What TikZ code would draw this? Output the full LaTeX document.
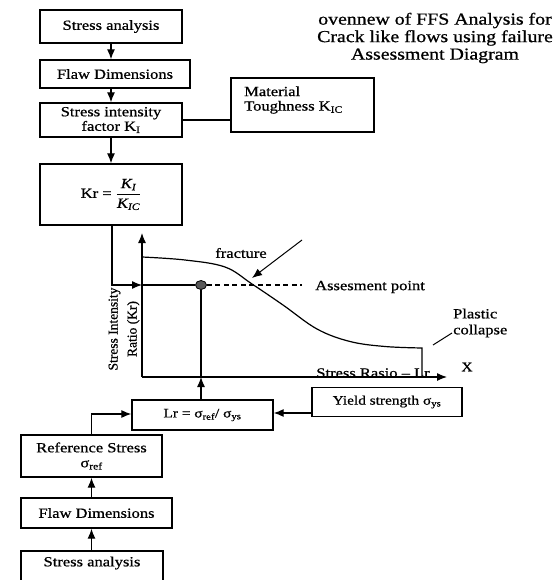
\documentclass[tikz,border=0pt]{standalone}
\usepackage{amsmath}
\usepackage{fontspec}
\setmainfont{Liberation Serif}[FakeStretch=1.18,FakeBold=0.8]
\newfontfamily\rotfont{Liberation Serif}[FakeBold=0.8]
\usetikzlibrary{arrows.meta,shapes.geometric}
\tikzset{
  blk/.style={draw, line width=1.3pt, inner sep=0pt, align=center, font=\fontsize{14}{14.5}\selectfont},
  txt/.style={inner sep=0pt, font=\fontsize{14}{16}\selectfont},
  conn/.style={line width=1.2pt},
  arr/.style={line width=1.2pt, -{Latex[length=10pt,width=8pt]}},
}
\begin{document}
\begin{tikzpicture}[x=1pt,y=-1pt]
\useasboundingbox (0,0) rectangle (557,580);
% title
\node[align=center, inner sep=0pt, font=\fontsize{16.8}{17.5}\selectfont] (title) at (435,38)
  {ovennew of FFS Analysis for\\Crack like flows using failure\\Assessment Diagram};
% upper chain
\node[blk, minimum width=142pt, minimum height=33pt] (sa1) at (111,26.5) {Stress analysis};
\node[blk, minimum width=150pt, minimum height=28pt] (fd1) at (115,74) {Flaw Dimensions};
\node[blk, minimum width=142pt, minimum height=34pt] (sif) at (111,120) {Stress intensity\\factor K\textsubscript{I}};
\node[blk, minimum width=143pt, minimum height=54pt] (mat) at (302.5,105) {};
\node[txt, anchor=west, align=left, font=\fontsize{14}{14.5}\selectfont] (matt) at (244,100) {Material\\Toughness K\textsubscript{IC}};
\node[blk, minimum width=142pt, minimum height=61pt] (kr) at (111,194.5)
  {Kr = $\dfrac{\textit{K}_{\textit{I}}}{\textit{K}_{\textit{IC}}}$};
\draw[arr] (sa1.south) -- (sa1.south |- fd1.north);
\draw[arr] (sif.north |- fd1.south) -- (sif.north);
\draw[arr] (sif.south) -- (kr.north);
\draw[conn] (sif.east) -- (sif.east -| mat.west);
% graph
\coordinate (O) at (142,377);
\coordinate (ytop) at (142,233);
\coordinate (xend) at (447,377);
\coordinate (kink) at (112,285);
\coordinate (yhit) at (142,285);
\coordinate (dashend) at (302,285);
\node[draw, fill=black!65, line width=0.8pt, ellipse, minimum width=11pt, minimum height=9pt, inner sep=0pt] (pt) at (201,285) {};
\draw[arr] (kink |- kr.south) -- (kink) -- (yhit);
\draw[conn] (yhit) -- (pt.west);
\draw[arr] (O) -- (ytop);
\draw[arr] (O) -- (xend);
\draw[conn, dash pattern=on 5pt off 3.5pt] (pt.east) -- (dashend);
\draw[conn] plot[smooth, tension=0.6] coordinates {(142,257) (185,260) (225,267) (252,284) (283,305) (317,329) (350,341.5) (385,346.5) (422,348)} -- (422,377);
\node[txt, anchor=west] (asp) at (315,287) {Assesment point};
\node[txt] (frac) at (241,253) {fracture};
\coordinate (fracA) at (302,240);
\coordinate (fracB) at (252,278);
\draw[arr, line width=1pt] (fracA) -- (fracB);
\node[txt, anchor=west, align=left] (pc) at (453,323) {Plastic\\collapse};
\coordinate (pcA) at (452,333);
\coordinate (pcB) at (433,345);
\draw[conn, line width=1pt] (pcA) -- (pcB);
\node[txt] (sr) at (373,373) {Stress Rasio – Lr};
\node[inner sep=0pt, font=\fontsize{13}{13}\selectfont] (xl) at (467,367) {X};
\node[rotate=90, inner sep=0pt, align=center, font=\rotfont\fontsize{13.5}{19}\selectfont] (ylab) at (124,329) {Stress Intensity\\Ratio (Kr)};
% lower chain
\node[blk, font=\fontsize{13}{13.5}\selectfont, minimum width=141pt, minimum height=30pt] (lr) at (202.5,415) {Lr = σ\textsubscript{ref}/ σ\textsubscript{ys}};
\node[blk, font=\fontsize{13}{14}\selectfont, minimum width=150pt, minimum height=29pt] (ys) at (387,402) {Yield strength σ\textsubscript{ys}};
\node[blk, minimum width=141pt, minimum height=42pt, font=\fontsize{14}{15}\selectfont] (ref) at (91.5,456) {Reference Stress\\σ\textsubscript{ref}};
\node[blk, minimum width=151pt, minimum height=30pt] (fd2) at (96.5,513) {Flaw Dimensions};
\node[blk, minimum width=142pt, minimum height=34pt] (sa2) at (92,568) {};
\node[txt] (sa2t) at (92,563) {Stress analysis};
\draw[arr] (pt |- lr.north) -- (pt |- O);
\draw[conn] (pt |- O) -- (pt.south);
\coordinate (ysl) at (312,413);
\draw[arr] (ysl) -- (ysl -| lr.east);
\coordinate (rl) at (91.5,414);
\draw[arr] (ref.north) -- (rl) -- (rl -| lr.west);
\draw[arr] (ref.south |- fd2.north) -- (ref.south);
\draw[arr] (ref.south |- sa2.north) -- (ref.south |- fd2.south);
\end{tikzpicture}
\end{document}
